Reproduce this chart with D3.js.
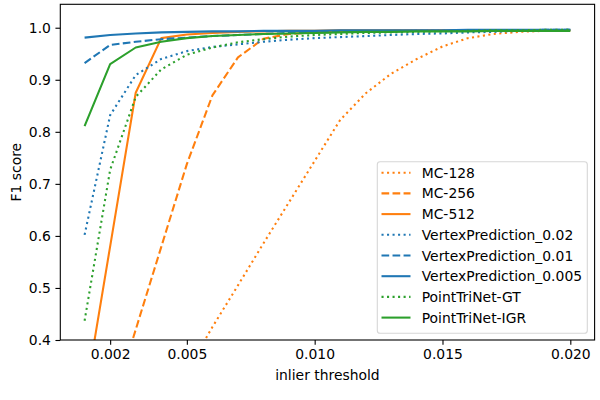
<!DOCTYPE html>
<html>
<head>
<meta charset="utf-8">
<script src="https://cdn.jsdelivr.net/npm/d3@7"></script>
<style>
  body { margin: 0; background: #fff; }
  #chart { width: 600px; height: 400px; }
  text { font-family: "DejaVu Sans", sans-serif; font-size: 13.9px; fill: #000; }
</style>
</head>
<body>
<div id="chart"></div>
<script>
// inlier thresholds (x values)
const thresholds = [0.001, 0.002, 0.003, 0.004, 0.005, 0.006, 0.007, 0.008, 0.009, 0.010,
                    0.011, 0.012, 0.013, 0.014, 0.015, 0.016, 0.017, 0.018, 0.019, 0.020];

// F1 scores
const mc128  = [0.05, 0.12, 0.20, 0.27, 0.34, 0.425, 0.505, 0.586, 0.665, 0.744,
                0.823, 0.874, 0.912, 0.940, 0.964, 0.980, 0.988, 0.992, 0.994, 0.995];
const mc256  = [0.10, 0.26, 0.420, 0.579, 0.738, 0.870, 0.943, 0.979, 0.988, 0.991,
                0.992, 0.993, 0.994, 0.994, 0.995, 0.995, 0.995, 0.995, 0.995, 0.995];
const mc512  = [0.285, 0.580, 0.875, 0.980, 0.987, 0.990, 0.992, 0.993, 0.994, 0.994,
                0.995, 0.995, 0.995, 0.995, 0.995, 0.995, 0.995, 0.995, 0.995, 0.995];
const vp002  = [0.602, 0.832, 0.909, 0.940, 0.955, 0.963, 0.968, 0.973, 0.977, 0.980,
                0.982, 0.984, 0.986, 0.988, 0.989, 0.991, 0.992, 0.994, 0.995, 0.996];
const vp001  = [0.932, 0.967, 0.973, 0.978, 0.981, 0.984, 0.986, 0.988, 0.990, 0.991,
                0.992, 0.993, 0.993, 0.994, 0.994, 0.995, 0.995, 0.995, 0.996, 0.996];
const vp0005 = [0.981, 0.986, 0.989, 0.991, 0.992, 0.993, 0.993, 0.994, 0.994, 0.994,
                0.995, 0.995, 0.995, 0.995, 0.995, 0.996, 0.996, 0.996, 0.996, 0.996];
const ptnGT  = [0.437, 0.727, 0.867, 0.920, 0.948, 0.962, 0.972, 0.978, 0.983, 0.986,
                0.988, 0.990, 0.991, 0.992, 0.993, 0.994, 0.995, 0.995, 0.996, 0.996];
const ptnIGR = [0.811, 0.930, 0.962, 0.973, 0.980, 0.984, 0.986, 0.988, 0.989, 0.990,
                0.991, 0.992, 0.992, 0.993, 0.993, 0.993, 0.994, 0.994, 0.994, 0.994];

const seriesNames = ["MC-128", "MC-256", "MC-512", "VertexPrediction_0.02",
                     "VertexPrediction_0.01", "VertexPrediction_0.005", "PointTriNet-GT", "PointTriNet-IGR"];
const seriesValues = [mc128, mc256, mc512, vp002, vp001, vp0005, ptnGT, ptnIGR];

const xTicks = [0.002, 0.005, 0.010, 0.015, 0.020];
const yTicks = [0.4, 0.5, 0.6, 0.7, 0.8, 0.9, 1.0];

/*
STYLE PER SERIES
*/
const orange = "#ff7f0e", blue = "#1f77b4", green = "#2ca02c";
const dotted = "2.08,3.44", dashed = "7.7,3.33";
const styles = [
    {color: orange, dash: dotted},
    {color: orange, dash: dashed},
    {color: orange, dash: null},
    {color: blue, dash: dotted},
    {color: blue, dash: dashed},
    {color: blue, dash: null},
    {color: green, dash: dotted},
    {color: green, dash: null}
];

/*
SVG + SCALES
*/
const width = 600, height = 400;
const margin = {top: 4.3, left: 60.3, right: 5.4, bottom: 60};

const svg = d3.select("#chart")
    .append("svg")
    .attr("width", width)
    .attr("height", height);

const xScale = d3.scaleLinear()
    .domain([0.00005, 0.02095])
    .range([margin.left, width - margin.right]);

const yScale = d3.scaleLinear()
    .domain([0.4, 1.045])
    .range([height - margin.bottom, margin.top]);

svg.append("clipPath")
    .attr("id", "plotclip")
    .append("rect")
    .attr("x", margin.left)
    .attr("y", margin.top)
    .attr("width", width - margin.right - margin.left)
    .attr("height", height - margin.bottom - margin.top);

/*
LINES
*/
const line = d3.line()
    .x(function(d, i) { return xScale(thresholds[i]); })
    .y(function(d) { return yScale(d); });

const lineGroup = svg.append("g").attr("clip-path", "url(#plotclip)");

seriesValues.forEach(function(vals, i) {
    lineGroup.append("path")
        .datum(vals)
        .attr("d", line)
        .attr("fill", "none")
        .attr("stroke", styles[i].color)
        .attr("stroke-width", 2.08)
        .attr("stroke-linejoin", "round")
        .attr("stroke-dasharray", styles[i].dash);
});

/*
AXES
*/
const xAxis = svg.append("g")
    .attr("transform", `translate(0,${height - margin.bottom})`)
    .call(d3.axisBottom(xScale).tickValues(xTicks).tickFormat(d3.format(".3f"))
        .tickSize(4.86).tickPadding(4.5));

const yAxis = svg.append("g")
    .attr("transform", `translate(${margin.left},0)`)
    .call(d3.axisLeft(yScale).tickValues(yTicks).tickFormat(d3.format(".1f"))
        .tickSize(4.86).tickPadding(4.5));

svg.selectAll(".domain").remove();
svg.selectAll(".tick line").attr("stroke", "#000").attr("stroke-width", 1.1);
svg.selectAll(".tick text")
    .style("font-family", "'DejaVu Sans', sans-serif")
    .style("font-size", "13.9px")
    .attr("fill", "#000");

// frame
svg.append("rect")
    .attr("x", margin.left)
    .attr("y", margin.top)
    .attr("width", width - margin.right - margin.left)
    .attr("height", height - margin.bottom - margin.top)
    .attr("fill", "none")
    .attr("stroke", "#000")
    .attr("stroke-width", 1.1);

/*
AXIS LABELS
*/
svg.append("text")
    .attr("x", (margin.left + width - margin.right) / 2)
    .attr("y", 380)
    .attr("text-anchor", "middle")
    .text("inlier threshold");

svg.append("text")
    .attr("transform", "rotate(-90)")
    .attr("x", -(margin.top + height - margin.bottom) / 2)
    .attr("y", 20.5)
    .attr("text-anchor", "middle")
    .text("F1 score");

/*
LEGEND
*/
const legend = svg.append("g");

legend.append("rect")
    .attr("x", 377.3)
    .attr("y", 161.7)
    .attr("width", 210)
    .attr("height", 171.6)
    .attr("rx", 2.8)
    .attr("fill", "rgba(255,255,255,0.8)")
    .attr("stroke", "#d6d6d6")
    .attr("stroke-width", 1.1);

seriesNames.forEach(function(name, i) {
    const cy = 172.7 + i * 20.7;
    legend.append("line")
        .attr("x1", 381.5)
        .attr("x2", 410.5)
        .attr("y1", cy)
        .attr("y2", cy)
        .attr("stroke", styles[i].color)
        .attr("stroke-width", 2.08)
        .attr("stroke-dasharray", styles[i].dash);
    legend.append("text")
        .attr("x", 421.7)
        .attr("y", cy)
        .attr("dy", "0.36em")
        .text(name);
});
</script>
</body>
</html>
